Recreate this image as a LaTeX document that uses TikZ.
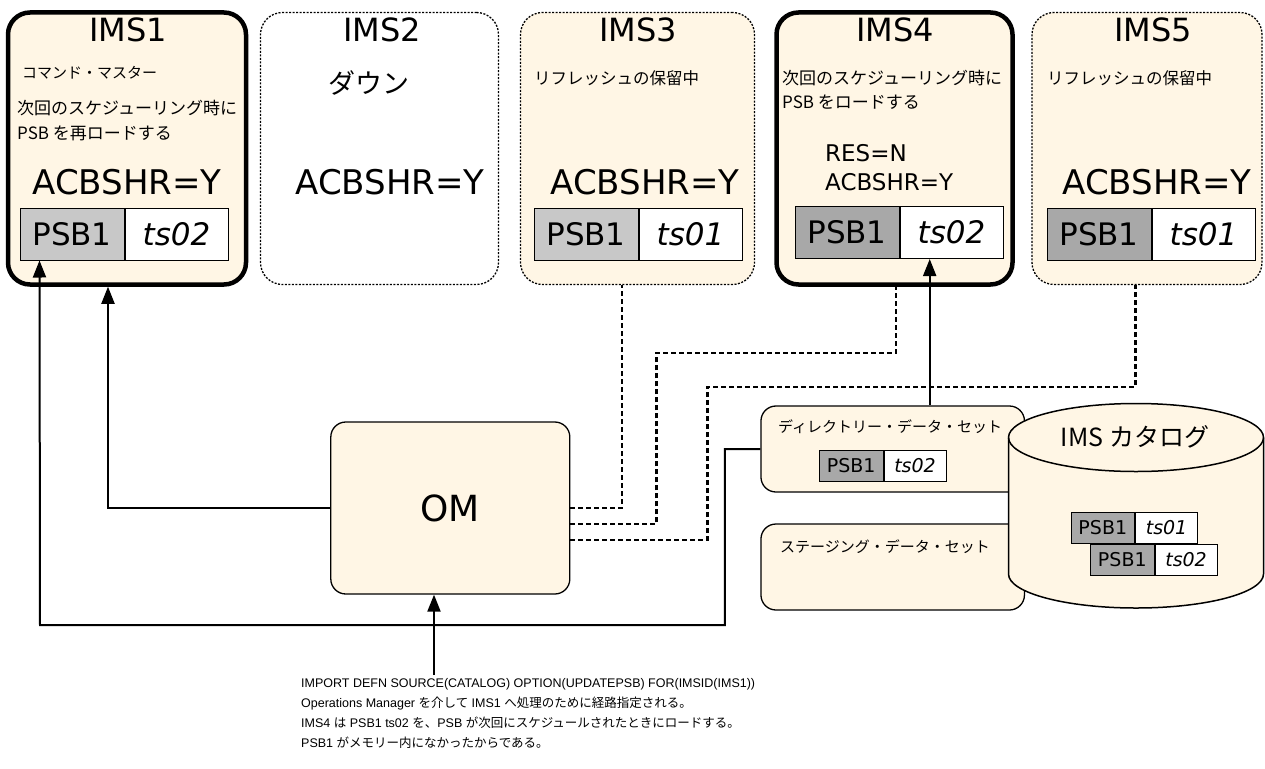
\documentclass[tikz,border=0pt]{standalone}
\usepackage{fontspec}
\setmainfont{DejaVu Sans}
\newfontfamily\jp{Noto Sans CJK JP}
\newfontfamily\lat{Liberation Sans}
\usetikzlibrary{arrows.meta}
\definecolor{cream}{HTML}{FFF6E5}
\definecolor{psbgray}{HTML}{C8C8C8}
\definecolor{psbdark}{HTML}{A8A8A8}
\newcommand{\fs}[2]{\fontsize{#1}{#2}\selectfont}
\newcommand{\ja}[1]{{\jp #1}}

\begin{document}
\begin{tikzpicture}[
  x=1pt, y=-1pt,
  imsbox/.style={rectangle, rounded corners=22pt, minimum height=272pt, inner sep=0pt},
  up/.style={imsbox, draw, line width=4.5pt, fill=cream},
  idle/.style={imsbox, draw, line width=1.3pt, dash pattern=on 2pt off 1.5pt},
  title/.style={inner sep=0pt, font=\fs{32}{36}},
  big/.style={inner sep=0pt, font=\fs{34}{40}},
  jtext/.style={anchor=west, inner sep=0pt, align=left, font=\jp\fs{17}{24}},
  psb/.style={draw, line width=1pt, fill=psbgray, minimum width=104pt, minimum height=52pt, inner sep=0pt, font=\fs{31}{36}},
  ts/.style={draw, line width=1pt, fill=white, anchor=west, minimum width=103pt, minimum height=52pt, inner sep=0pt, font=\fs{31}{36}\itshape},
  minipsb/.style={draw, line width=1pt, fill=psbdark, minimum width=63.5pt, minimum height=31pt, inner sep=0pt, font=\fs{19}{22}},
  minits/.style={draw, line width=1pt, fill=white, anchor=west, minimum width=62pt, minimum height=31pt, inner sep=0pt, font=\fs{19}{22}\itshape},
  dsbox/.style={rectangle, rounded corners=15pt, draw, line width=1.3pt, fill=cream, minimum width=263.5pt, minimum height=86pt},
  arrow/.style={-{Triangle[length=17pt,width=13pt]}, line width=2pt},
  link/.style={line width=2.5pt, dash pattern=on 5pt off 3pt}
]
\useasboundingbox (0,0) rectangle (1265,768);

% IMS boxes
\node[up, minimum width=238pt] (ims1) at (127,148.5) {};
\node[idle, minimum width=238pt] (ims2) at (379.5,148.5) {};
\node[idle, fill=cream, minimum width=234pt] (ims3) at (637.5,148.5) {};
\node[up, minimum width=236pt] (ims4) at (894.5,148.5) {};
\node[idle, fill=cream, minimum width=230pt] (ims5) at (1147,148.5) {};

\node[title] (t1) at (128,30) {IMS1};
\node[title] (t2) at (382,30) {IMS2};
\node[title] (t3) at (638,30) {IMS3};
\node[title] (t4) at (895,30) {IMS4};
\node[title] (t5) at (1153,30) {IMS5};

% IMS1
\node[jtext, font=\jp\fs{15}{18}] (cmd1) at (22,73) {コマンド・マスター};
\node[jtext, font=\jp\fs{17}{25}] (sched1) at (17,120.5) {次回のスケジューリング時に\\PSB を再ロードする};
\node[big] (acb1) at (127,182) {ACBSHR=Y};
\node[psb] (p1) at (72,234) {PSB1};
\node[ts] (q1) at (p1.east) {ts02};

% IMS2
\node[jtext, font=\jp\fs{27}{30}] (down2) at (328,83) {ダウン};
\node[big] (acb2) at (390,182) {ACBSHR=Y};

% IMS3
\node[jtext, font=\jp\fs{16.5}{20}] (wait3) at (534,78) {リフレッシュの保留中};
\node[big] (acb3) at (645,182) {ACBSHR=Y};
\node[psb] (p3) at (586,234) {PSB1};
\node[ts] (q3) at (p3.east) {ts01};

% IMS4
\node[jtext, font=\jp\fs{17}{24}] (sched4) at (782,90) {次回のスケジューリング時に\\PSB をロードする};
\node[anchor=west, inner sep=0pt, align=left, font=\fs{23}{29}] (res4) at (825,167.5) {RES=N\\ACBSHR=Y};
\node[psb, fill=psbdark] (p4) at (847,232.5) {PSB1};
\node[ts] (q4) at (p4.east) {ts02};

% IMS5
\node[jtext, font=\jp\fs{16.5}{20}] (wait5) at (1047,78) {リフレッシュの保留中};
\node[big] (acb5) at (1157,182) {ACBSHR=Y};
\node[psb, fill=psbdark] (p5) at (1099,234) {PSB1};
\node[ts] (q5) at (p5.east) {ts01};

% OM and data sets
\node[rectangle, rounded corners=15pt, draw, line width=1.3pt, fill=cream, minimum width=239pt, minimum height=172pt, font=\fs{36}{40}] (om) at (450.3,508) {OM};

\node[dsbox] (dir) at (892.7,449) {};
\node[jtext, font=\jp\fs{15}{18}] (dirt) at (778,427) {ディレクトリー・データ・セット};
\node[minipsb] (dp) at (851.25,465.5) {PSB1};
\node[minits] (dq) at (dp.east) {ts02};

\node[dsbox] (stg) at (892.7,567) {};
\node[jtext, font=\jp\fs{15}{18}] (stgt) at (780,547) {ステージング・データ・セット};

% catalog
\fill[cream] (1008.5,437.5) -- (1008.5,574) arc[start angle=180, end angle=360, x radius=127.5pt, y radius=34pt]
  -- (1263.5,437.5) arc[start angle=0, end angle=180, x radius=127.5pt, y radius=34pt] -- cycle;
\draw[line width=1.5pt] (1008.5,437.5) -- (1008.5,574) arc[start angle=180, end angle=360, x radius=127.5pt, y radius=34pt] -- (1263.5,437.5);
\draw[line width=1.5pt] (1136,437.5) ellipse[x radius=127.5pt, y radius=34pt];
\node[inner sep=0pt, font=\jp\fs{25}{28}] (catt) at (1135,437) {IMS カタログ};
\node[minipsb] (cp1) at (1102.8,527.5) {PSB1};
\node[minits] (cq1) at (cp1.east) {ts01};
\node[minipsb] (cp2) at (1122.3,560) {PSB1};
\node[minits] (cq2) at (cp2.east) {ts02};

% connectors
\coordinate (loop) at (40,625);
\coordinate (bend4) at (656.7,353);
\coordinate (bend5) at (707.5,387);
\coordinate (cmd) at (434,675);

\draw[arrow] (dir.west) -- ++(-35.5,0) |- (loop) -- ([xshift=20pt]p1.south west);
\draw[arrow] (om.west) -| ([xshift=-19pt]ims1.south);
\draw[link] (om.east) -| ([xshift=-15.5pt]ims3.south);
\draw[link] ([yshift=-16pt]om.east) -| (bend4) -| ([xshift=1.5pt]ims4.south);
\draw[link] ([yshift=-32pt]om.east) -| (bend5) -| ([xshift=-11.5pt]ims5.south);
\draw[arrow] ([xshift=37pt]dir.north) -- ([xshift=37pt]dir.north |- p4.south);
\draw[arrow] (cmd) -- (cmd |- om.south);

\node[anchor=north west, inner sep=0pt, align=left, font=\lat\fs{12.5}{20}] (note) at (301,678) {IMPORT DEFN SOURCE(CATALOG) OPTION(UPDATEPSB) FOR(IMSID(IMS1))\\
Operations Manager \ja{を介して} IMS1 \ja{へ処理のために経路指定される。}\\
IMS4 \ja{は} PSB1 ts02 \ja{を、}PSB \ja{が次回にスケジュールされたときにロードする。}\\
PSB1 \ja{がメモリー内になかったからである。}};
\end{tikzpicture}
\end{document}
